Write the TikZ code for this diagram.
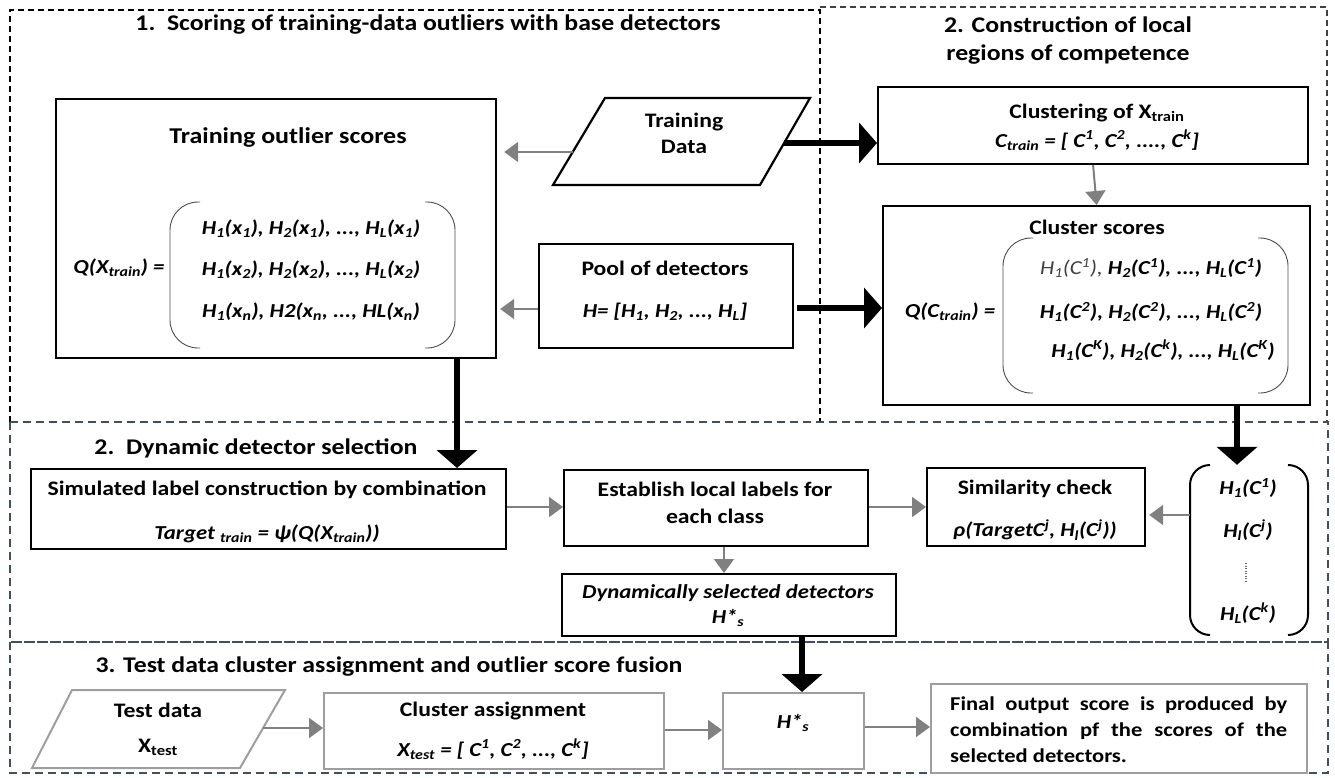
\documentclass[tikz,border=0pt]{standalone}
\usepackage{fontspec}
\setmainfont[FakeStretch=1.15]{Carlito}
\usetikzlibrary{arrows.meta}
\newcommand{\sbs}[1]{\textsubscript{#1}}
\newcommand{\sps}[1]{\textsuperscript{#1}}
\definecolor{slate}{RGB}{68,79,94}
\begin{document}
\begin{tikzpicture}[x=1pt,y=-1pt,
  box/.style={draw=black,line width=2.2pt,inner sep=0pt},
  gbox/.style={draw=black!38,line width=2pt,inner sep=0pt},
  garr/.style={draw=black!50,line width=2pt,-{Triangle[length=14pt,width=20pt,fill=black!50]}},
  barr/.style={draw=black,line width=6pt,-{Triangle[length=18pt,width=40pt]}},
  sec1/.style={draw=black,line width=1.3pt,dash pattern=on 6pt off 4pt},
  sec2/.style={draw=slate,line width=1.3pt,dash pattern=on 8pt off 5pt},
  brk/.style={draw=black!70,line width=0.9pt,rounded corners=28pt},
  ttl/.style={inner sep=0pt,font=\fontsize{22.4}{26}\selectfont\bfseries},
  bt/.style={inner sep=0pt,font=\fontsize{20.6}{24}\selectfont\bfseries},
  bt2/.style={inner sep=0pt,font=\fontsize{22.6}{26}\selectfont\bfseries},
  bi/.style={inner sep=0pt,font=\fontsize{19.8}{23}\selectfont\bfseries\itshape}
]
\useasboundingbox (0,0) rectangle (1335,778);
% sections
\draw[sec1] (10,422) -- (10,10) -- (820,10) -- (820,422);
\draw[sec1,draw=black!75] (820,7) -- (1327,7) -- (1327,422);
\draw[sec2] (10,422) rectangle (1328,642);
\draw[sec2] (10,642) rectangle (1328,773);
% section titles
\node[ttl] (t1) at (428,25) {1.\ \ Scoring of training-data outliers with base detectors};
\node[ttl] (t2a) at (1068,25) {2. Construction of local};
\node[ttl] (t2b) at (1068,55) {regions of competence};
\node[ttl] (t3) at (256,448) {2.\ \ Dynamic detector selection};
\node[ttl] (t4) at (389,667) {3. Test data cluster assignment and outlier score fusion};
% training outlier scores
\node[box,minimum width=440pt,minimum height=259pt,anchor=north west] (tos) at (55,98) {};
\node[bt2] (tost) at (288,137) {Training outlier scores};
\node[bi] (q1) at (119,268) {Q(X\sbs{train}) =};
\node[bi] (r1) at (311,229) {H\sbs{1}(x\sbs{1}), H\sbs{2}(x\sbs{1}), ..., H\sbs{L}(x\sbs{1})};
\node[bi] (r2) at (311,270) {H\sbs{1}(x\sbs{2}), H\sbs{2}(x\sbs{2}), ..., H\sbs{L}(x\sbs{2})};
\node[bi] (r3) at (311,312) {H\sbs{1}(x\sbs{n}), H2(x\sbs{n}, ..., HL(x\sbs{n})};
\draw[brk] (200,202) -- (170,202) -- (170,348) -- (200,348);
\draw[brk] (425,202) -- (455,202) -- (455,348) -- (425,348);
% training data
\draw[line width=2.2pt,line join=miter] (605,98) -- (810,98) -- (760,185) -- (553,185) -- cycle;
\node[bt,align=center] (td) at (684,133) {Training\\[2pt]Data};
\coordinate (tdL) at (573,152);
\coordinate (tdR) at (784,143);
% pool
\node[box,minimum width=254pt,minimum height=104pt,anchor=north west] (pool) at (538,243) {};
\node[bt] (poolt) at (665,268) {Pool of detectors};
\node[bi] (poolf) at (665,312) {H= [H\sbs{1}, H\sbs{2}, ..., H\sbs{L}]};
\coordinate (pL) at (538,309);
\coordinate (pR) at (797,308);
% clustering
\node[box,minimum width=430pt,minimum height=77pt,anchor=north west] (clu) at (877,86) {};
\node[bt] (clut) at (1097,113) {Clustering of X\sbs{train}};
\node[bi] (cluf) at (1097,140) {C\sbs{train} = [ C\sps{1}, C\sps{2}, ...., C\sps{k}]};
% cluster scores
\node[box,minimum width=427pt,minimum height=199pt,anchor=north west] (cs) at (882,205) {};
\node[bt] (cst) at (1097,227) {Cluster scores};
\node[bi] (q2) at (950,312) {Q(C\sbs{train}) =};
\node[bi] (c1) at (1151,268) {{\color{black!75}\mdseries H\sbs{1}(C\sps{1}),} H\sbs{2}(C\sps{1}), ..., H\sbs{L}(C\sps{1})};
\node[bi] (c2) at (1151,312) {H\sbs{1}(C\sps{2}), H\sbs{2}(C\sps{2}), ..., H\sbs{L}(C\sps{2})};
\node[bi] (c3) at (1163,350) {H\sbs{1}(C\sps{K}), H\sbs{2}(C\sps{k}), ..., H\sbs{L}(C\sps{K})};
\draw[brk] (1033,238) -- (1003,238) -- (1003,393) -- (1033,393);
\draw[brk] (1258,238) -- (1288,238) -- (1288,393) -- (1258,393);
% section 2 boxes
\node[box,minimum width=475pt,minimum height=80pt,anchor=north west] (sim) at (30,468) {};
\node[bt] (simt) at (267,490) {Simulated label construction by combination};
\node[bi] (simf) at (267,534) {Target \sbs{train} = ψ(Q(X\sbs{train}))};
\node[box,minimum width=304pt,minimum height=76pt,anchor=north west] (est) at (563,469) {};
\node[bt,align=center] (estt) at (715,503) {Establish local labels for\\[3pt]each class};
\node[box,minimum width=218pt,minimum height=78pt,anchor=north west] (simc) at (926,467) {};
\node[bt] (simct) at (1035,489) {Similarity check};
\node[bi] (simcf) at (1035,530) {ρ(TargetC\sps{j}, H\sbs{l}(C\sps{j}))};
\node[box,minimum width=334pt,minimum height=62pt,anchor=north west] (dyn) at (561,573) {};
\node[bi] (dynt) at (728,593) {Dynamically selected detectors};
\node[bi] (dynf) at (728,618) {H*\sbs{s}};
% column vector
\node[minimum width=118pt,minimum height=170pt,inner sep=0pt] (vec) at (1249,550) {};
\draw[brk,draw=black,line width=2pt,rounded corners=20pt] (1210,465) -- (1190,465) -- (1190,635) -- (1210,635);
\draw[brk,draw=black,line width=2pt,rounded corners=20pt] (1288,465) -- (1308,465) -- (1308,635) -- (1288,635);
\node[bi] (v1) at (1248,488) {H\sbs{1}(C\sps{1})};
\node[bi] (v2) at (1248,530) {H\sbs{l}(C\sps{j})};
\draw[black!60,line width=1.2pt,dash pattern=on 1pt off 1.5pt] (1246,563) -- (1246,581);
\node[bi] (v3) at (1248,613) {H\sbs{L}(C\sps{k})};
\coordinate (vL) at (1190,515);
% section 3
\draw[gbox,line join=miter] (72,690) -- (285,690) -- (240,768) -- (32,768) -- cycle;
\node[bt] (tdt) at (158,710) {Test data};
\node[bt] (tdx) at (158,747) {X\sbs{test}};
\coordinate (teR) at (263,728);
\node[gbox,minimum width=340pt,minimum height=76pt,anchor=north west] (ca) at (323,692) {};
\node[bt] (cat) at (493,711) {Cluster assignment};
\node[bi] (caf) at (493,749) {X\sbs{test} = [ C\sps{1}, C\sps{2}, ..., C\sps{k}]};
\node[gbox,minimum width=141pt,minimum height=76pt,anchor=north west] (hs) at (722,692) {};
\node[bi] (hst) at (793,723) {H*\sbs{s}};
\node[gbox,minimum width=376pt,minimum height=89pt,anchor=north west] (fin) at (930,683) {};
\node[inner sep=0pt,text width=337pt,align=justify,anchor=north west,font=\fontsize{19.6}{26}\selectfont\bfseries] (fint) at (950,697) {Final output score is produced by\linebreak combination pf the scores of the\linebreak selected detectors.};
% arrows
\draw[garr,shorten >=7pt] (tdL) -- (tdL -| tos.east);
\draw[barr] (tdR) -- (tdR -| clu.west);
\draw[garr,shorten >=3pt] (pL) -- (pL -| tos.east);
\draw[barr] (pR) -- (pR -| cs.west);
\draw[barr] (tos.south -| 457,0) -- (sim.north -| 457,0);
\draw[garr] (clu.south) -- (cs.north);
\draw[barr] (cs.south -| 1237,0) -- (vec.north -| 1237,0);
\draw[garr] (sim.east |- 0,507) -- (est.west |- 0,507);
\draw[garr] (est.east |- 0,507) -- (simc.west |- 0,507);
\draw[garr,shorten >=3pt] (vL) -- (vL -| simc.east);
\draw[garr] (est.south -| 724,0) -- (dyn.north -| 724,0);
\draw[barr] (dyn.south -| 802,0) -- (hs.north -| 802,0);
\draw[garr] (teR) -- (teR -| ca.west);
\draw[garr] (ca.east |- 0,730) -- (hs.west |- 0,730);
\draw[garr] (hs.east |- 0,727) -- (fin.west |- 0,727);
\end{tikzpicture}
\end{document}
